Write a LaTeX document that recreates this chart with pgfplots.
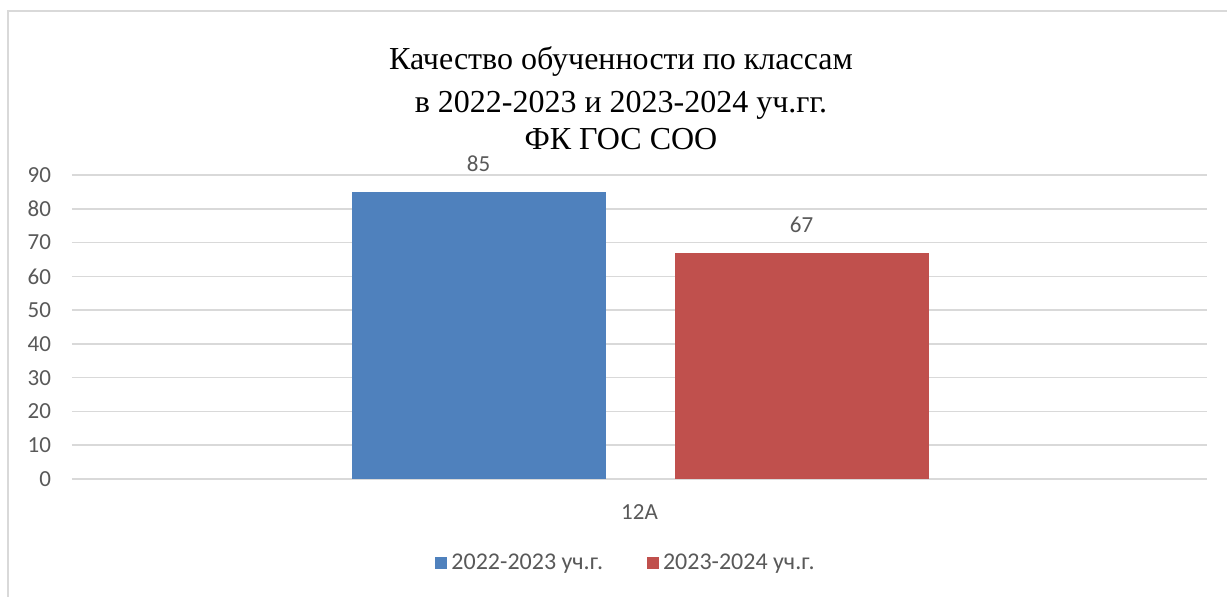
\documentclass[border=0pt]{standalone}
\usepackage{fontspec}
\setmainfont{Liberation Serif}
\newfontfamily\calibri{Carlito}
\usepackage{pgfplots}
\pgfplotsset{compat=1.18}

\definecolor{blueS}{HTML}{4F81BD}
\definecolor{redS}{HTML}{C0504D}
\definecolor{gridc}{HTML}{D9D9D9}
\definecolor{txt}{HTML}{595959}

\begin{document}
\begin{tikzpicture}
\path[use as bounding box] (-36pt,-58.5pt) rectangle (577.5pt,239.5pt);
\draw[gridc, line width=0.75pt] (-32pt,-60pt) -- (-32pt,234pt) -- (580pt,234pt);
\begin{axis}[
  at={(0pt,0pt)}, anchor=south west,
  scale only axis, width=567.5pt, height=152pt,
  xmin=-1, xmax=1, ymin=0, ymax=90,
  ytick={0,10,...,90}, xtick={0}, xticklabels={12А},
  major tick length=0pt,
  axis line style={draw=none},
  ymajorgrids, grid style={gridc, line width=0.75pt},
  /pgf/number format/assume math mode=true,
  tick label style={font=\calibri\fontsize{11.5}{13}\selectfont, text=txt},
  yticklabel style={xshift=-7pt},
  xticklabel style={yshift=-9.5pt},
  ybar, bar width=127pt,
  nodes near coords,
  nodes near coords style={font=\calibri\fontsize{11.5}{13}\selectfont, text=txt, yshift=6.5pt},
  legend style={draw=none, at={(0.489,0)}, anchor=center, yshift=-42pt,
    font=\calibri\fontsize{12}{14}\selectfont, text=txt,
    /tikz/every even column/.append style={column sep=20pt}},
  legend columns=2,
  legend image code/.code={\fill[#1] (0pt,-3pt) rectangle (6pt,3pt);},
]
\addplot[fill=blueS, draw=none, bar shift=-80.5pt] coordinates {(0,85)};
\addplot[fill=redS, draw=none, bar shift=81pt] coordinates {(0,67)};
\legend{2022-2023 уч.г., 2023-2024 уч.г.}
\end{axis}
\node[anchor=base, font=\fontsize{16}{18}\selectfont] at (274.5pt,204.5pt) {Качество обученности по классам};
\node[anchor=base, font=\fontsize{16}{18}\selectfont] at (274.5pt,183.5pt) {в 2022-2023 и 2023-2024 уч.гг.};
\node[anchor=base, font=\fontsize{16}{18}\selectfont] at (274.5pt,164.5pt) {ФК ГОС СОО};
\end{tikzpicture}
\end{document}
